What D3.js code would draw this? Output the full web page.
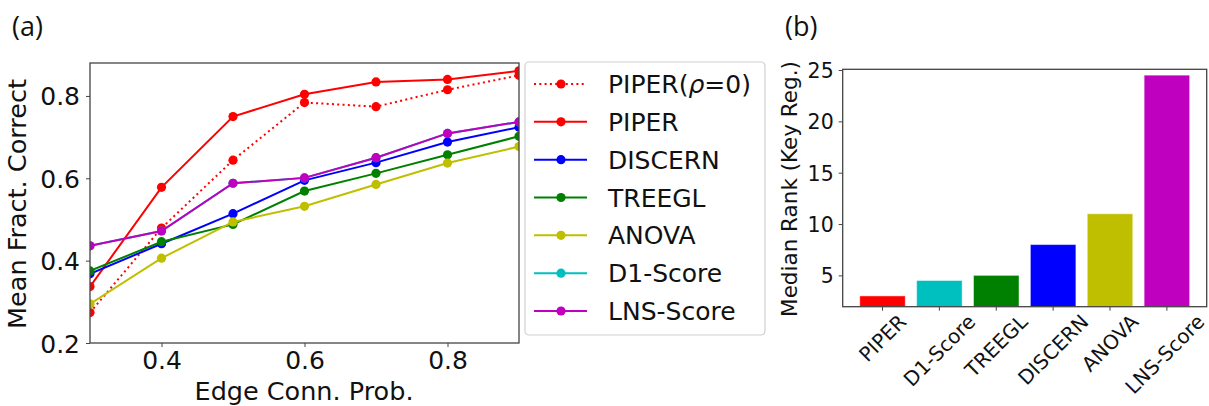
<!DOCTYPE html>
<html>
<head>
<meta charset="utf-8">
<script src="https://cdn.jsdelivr.net/npm/d3@7"></script>
<style>
  body { margin: 0; background: #fff; }
  svg { display: block; }
  text { font-family: "DejaVu Sans", sans-serif; fill: #111; }
</style>
</head>
<body>
<div class="figure"></div>
<script>
// panel (a) data
var edgeProb = [0.3, 0.4, 0.5, 0.6, 0.7, 0.8, 0.9];
var piperRho0 = [0.274, 0.479, 0.644, 0.784, 0.774, 0.815, 0.850];
var piper = [0.337, 0.578, 0.750, 0.804, 0.834, 0.840, 0.861];
var discern = [0.368, 0.441, 0.514, 0.595, 0.638, 0.688, 0.724];
var treegl = [0.375, 0.446, 0.488, 0.569, 0.612, 0.657, 0.702];
var anova = [0.295, 0.406, 0.494, 0.532, 0.585, 0.637, 0.677];
var d1Score = [0.436, 0.472, 0.588, 0.601, 0.650, 0.709, 0.737];
var lnsScore = [0.436, 0.472, 0.588, 0.601, 0.650, 0.709, 0.737];
var xTicksA = [0.4, 0.6, 0.8];
var yTicksA = [0.2, 0.4, 0.6, 0.8];

// panel (b) data
var methods = ["PIPER", "D1-Score", "TREEGL", "DISCERN", "ANOVA", "LNS-Score"];
var medianRank = [3, 4.5, 5, 8, 11, 24.5];
var yTicksB = [5, 10, 15, 20, 25];

var colors = {
  r: "#ff0000", b: "#0000ff", g: "#008000", y: "#bfbf00", c: "#00bfbf", m: "#bf00bf"
};

var series = [
  { name: "PIPER(\u03c1=0)", values: piperRho0, color: colors.r, dotted: true },
  { name: "PIPER", values: piper, color: colors.r },
  { name: "DISCERN", values: discern, color: colors.b },
  { name: "TREEGL", values: treegl, color: colors.g },
  { name: "ANOVA", values: anova, color: colors.y },
  { name: "D1-Score", values: d1Score, color: colors.c },
  { name: "LNS-Score", values: lnsScore, color: colors.m }
];
var barColors = [colors.r, colors.c, colors.g, colors.b, colors.y, colors.m];

var width = 1209, height = 406;

var svg = d3.select(".figure").append("svg")
    .attr("width", width)
    .attr("height", height);

// ---------- panel (a) ----------
var x = d3.scaleLinear().domain([0.3, 0.9]).range([90, 519]);
var y = d3.scaleLinear().domain([0.2, 0.88]).range([343, 63]);

svg.append("clipPath").attr("id", "clipA")
  .append("rect")
    .attr("x", 90).attr("y", 63)
    .attr("width", 429).attr("height", 280);

var line = d3.line()
    .x(function(d, i) { return x(edgeProb[i]); })
    .y(function(d) { return y(d); });

var plotA = svg.append("g").attr("clip-path", "url(#clipA)");

series.forEach(function(s) {
  plotA.append("path")
      .attr("d", line(s.values))
      .attr("fill", "none")
      .attr("stroke", s.color)
      .attr("stroke-width", 2)
      .attr("stroke-dasharray", s.dotted ? "2,3.3" : null);
  plotA.selectAll(null)
      .data(s.values)
      .enter()
      .append("circle")
      .attr("cx", function(d, i) { return x(edgeProb[i]); })
      .attr("cy", function(d) { return y(d); })
      .attr("r", 4.6)
      .attr("fill", s.color);
});

var xAxisA = svg.append("g")
    .attr("transform", "translate(0,343)")
    .call(d3.axisBottom(x).tickValues(xTicksA).tickSize(4).tickPadding(4).tickFormat(d3.format(".1f")));
var yAxisA = svg.append("g")
    .attr("transform", "translate(90,0)")
    .call(d3.axisLeft(y).tickValues(yTicksA).tickSize(4).tickPadding(6).tickFormat(d3.format(".1f")));

[xAxisA, yAxisA].forEach(function(a) {
  a.select(".domain").remove();
  a.selectAll("line").attr("stroke", "#444");
  a.selectAll("text").style("font-size", "25px").attr("fill", "#111");
});
yAxisA.selectAll("text").attr("dy", "0.36em");

svg.append("rect")
    .attr("x", 90).attr("y", 63)
    .attr("width", 429).attr("height", 280)
    .attr("fill", "none")
    .attr("stroke", "#444")
    .attr("stroke-width", 1.3);

svg.append("text")
    .attr("x", 304).attr("y", 400)
    .attr("text-anchor", "middle")
    .style("font-size", "25.5px")
    .text("Edge Conn. Prob.");

svg.append("text")
    .attr("transform", "translate(26,204) rotate(-90)")
    .attr("text-anchor", "middle")
    .style("font-size", "25.5px")
    .text("Mean Fract. Correct");

svg.append("text")
    .attr("x", 12).attr("y", 36)
    .style("font-family", "'Open Sans', sans-serif")
    .style("font-size", "27px")
    .text("(a)");

// legend
var legend = svg.append("g");
legend.append("rect")
    .attr("x", 525).attr("y", 62)
    .attr("width", 240).attr("height", 273)
    .attr("rx", 4)
    .attr("fill", "#fff")
    .attr("stroke", "#d0d0d0")
    .attr("stroke-width", 1.2);

var rowY = d3.scaleLinear().domain([0, 6]).range([84, 311]);

series.forEach(function(s, i) {
  var cy = rowY(i);
  legend.append("line")
      .attr("x1", 534).attr("x2", 587)
      .attr("y1", cy).attr("y2", cy)
      .attr("stroke", s.color)
      .attr("stroke-width", 2)
      .attr("stroke-dasharray", s.dotted ? "2,3.3" : null);
  legend.append("circle")
      .attr("cx", 561).attr("cy", cy)
      .attr("r", 4.6)
      .attr("fill", s.color);
  var t = legend.append("text")
      .attr("x", 608).attr("y", cy + 9)
      .style("font-size", "25px");
  if (s.dotted) {
    t.append("tspan").text("PIPER(");
    t.append("tspan").style("font-style", "italic").text("\u03c1");
    t.append("tspan").text("=0)");
  } else {
    t.text(s.name);
  }
});

// ---------- panel (b) ----------
var xb = d3.scaleBand()
    .domain(methods)
    .range([842.7, 1206.7])
    .paddingInner(0.2)
    .paddingOuter(0.3);
var yb = d3.scaleLinear().domain([1.95, 25.07]).range([306.7, 69.3]);

svg.append("g")
  .selectAll("rect")
  .data(medianRank)
  .enter()
  .append("rect")
    .attr("x", function(d, i) { return xb(methods[i]); })
    .attr("y", function(d) { return yb(d); })
    .attr("width", xb.bandwidth())
    .attr("height", function(d) { return yb(1.95) - yb(d); })
    .attr("fill", function(d, i) { return barColors[i]; })
    .attr("stroke", "#fff")
    .attr("stroke-opacity", 0.45)
    .attr("stroke-width", 1);

var yAxisB = svg.append("g")
    .attr("transform", "translate(842.7,0)")
    .call(d3.axisLeft(yb).tickValues(yTicksB).tickSize(4).tickPadding(5));
yAxisB.select(".domain").remove();
yAxisB.selectAll("line").attr("stroke", "#444");
yAxisB.selectAll("text").style("font-size", "20.5px").attr("fill", "#111").attr("dy", "0.36em");

var xAxisB = svg.append("g")
    .attr("transform", "translate(0,306.7)")
    .call(d3.axisBottom(xb).tickSize(4).tickFormat(""));
xAxisB.select(".domain").remove();
xAxisB.selectAll("line").attr("stroke", "#444");

// rotated tick labels, bounding box centred under each tick (kept inside the page)
methods.forEach(function(m) {
  var cx = xb(m) + xb.bandwidth() / 2;
  var t = svg.append("text")
      .attr("text-anchor", "middle")
      .attr("dominant-baseline", "central")
      .style("font-size", "20px")
      .text(m);
  var len = t.node().getComputedTextLength();
  var boxH = (len + 14.5) / Math.SQRT2;
  cx = Math.min(cx, width - 3 - boxH / 2);
  t.attr("transform", "translate(" + cx + "," + (313 + boxH / 2) + ") rotate(-45)");
});

svg.append("rect")
    .attr("x", 842.7).attr("y", 69.3)
    .attr("width", 364).attr("height", 237.4)
    .attr("fill", "none")
    .attr("stroke", "#444")
    .attr("stroke-width", 1.3);

svg.append("text")
    .attr("transform", "translate(797,189) rotate(-90)")
    .attr("text-anchor", "middle")
    .style("font-size", "21.5px")
    .text("Median Rank (Key Reg.)");

svg.append("text")
    .attr("x", 785).attr("y", 36)
    .style("font-family", "'Open Sans', sans-serif")
    .style("font-size", "27px")
    .text("(b)");
</script>
</body>
</html>
